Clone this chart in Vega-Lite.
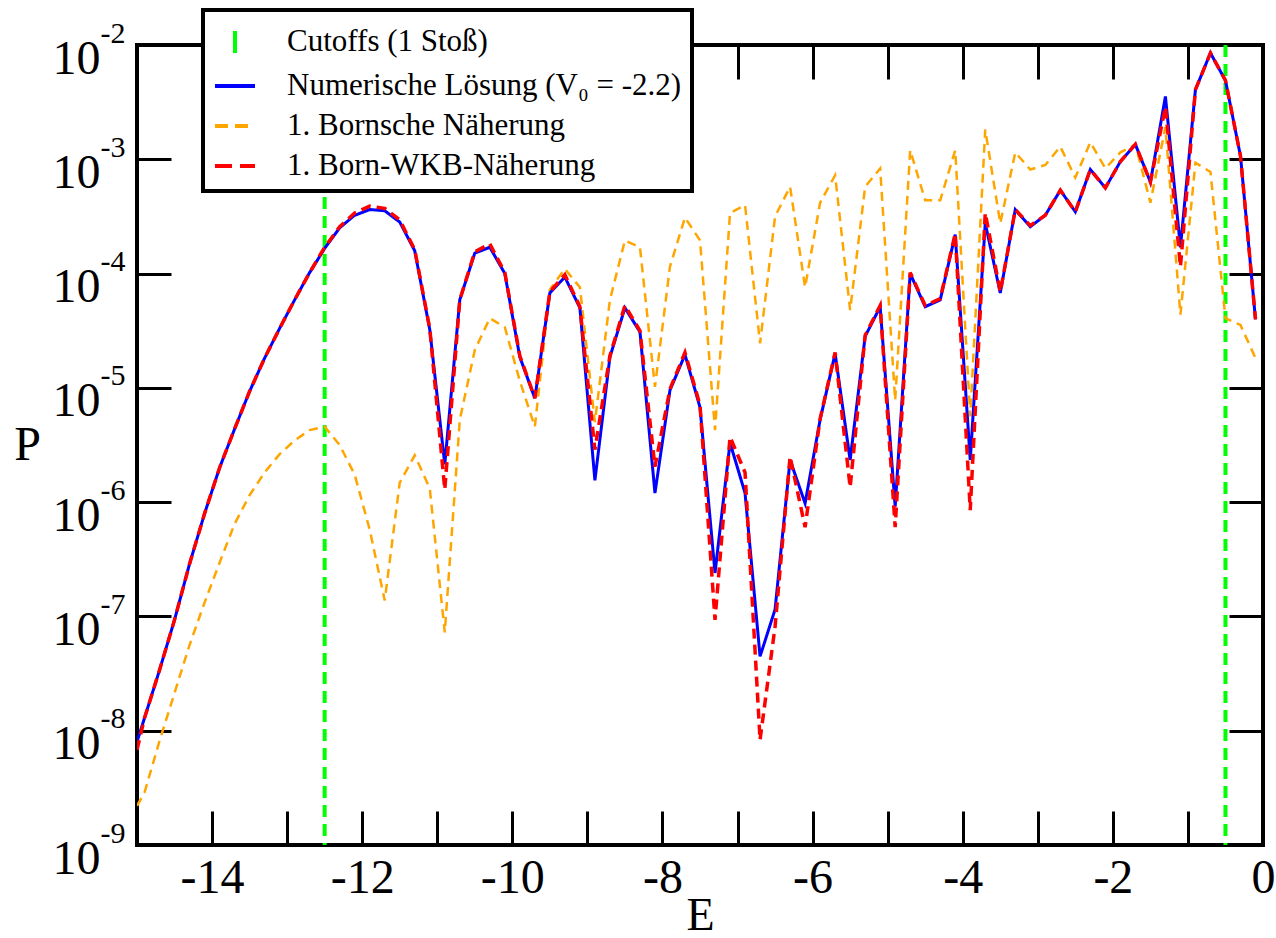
{
  "$schema": "https://vega.github.io/schema/vega-lite/v6.json",
  "width": 1126,
  "height": 800,
  "autosize": {"type": "none"},
  "padding": {"left": 137, "top": 45, "right": 13, "bottom": 93},
  "background": "white",
  "config": {
    "view": {"stroke": "black", "strokeWidth": 4},
    "axis": {"labelFont": "Liberation Serif", "titleFont": "Liberation Serif", "labelColor": "black", "titleColor": "black", "tickColor": "black", "grid": false, "domain": false, "titleFontWeight": "normal", "tickWidth": 3}
  },
  "data": {"values": [
    {"E": -15.0, "num": 8.0e-9, "born": 2.2e-9, "wkb": 6.8e-9},
    {"E": -14.9, "num": 1.29e-8, "born": 2.88e-9, "wkb": 1.29e-8},
    {"E": -14.7, "num": 3.39e-8, "born": 8.13e-9, "wkb": 3.39e-8},
    {"E": -14.5, "num": 9.33e-8, "born": 2.14e-8, "wkb": 9.33e-8},
    {"E": -14.3, "num": 2.88e-7, "born": 5.62e-8, "wkb": 2.88e-7},
    {"E": -14.1, "num": 7.94e-7, "born": 1.32e-7, "wkb": 7.94e-7},
    {"E": -13.9, "num": 2.00e-6, "born": 2.95e-7, "wkb": 2.00e-6},
    {"E": -13.7, "num": 4.37e-6, "born": 6.46e-7, "wkb": 4.37e-6},
    {"E": -13.5, "num": 9.33e-6, "born": 1.15e-6, "wkb": 9.33e-6},
    {"E": -13.3, "num": 1.82e-5, "born": 1.82e-6, "wkb": 1.82e-5},
    {"E": -13.1, "num": 3.31e-5, "born": 2.63e-6, "wkb": 3.31e-5},
    {"E": -12.9, "num": 5.89e-5, "born": 3.47e-6, "wkb": 5.89e-5},
    {"E": -12.7, "num": 1.02e-4, "born": 4.27e-6, "wkb": 1.02e-4},
    {"E": -12.5, "num": 1.66e-4, "born": 4.57e-6, "wkb": 1.70e-4},
    {"E": -12.3, "num": 2.51e-4, "born": 3.16e-6, "wkb": 2.57e-4},
    {"E": -12.1, "num": 3.24e-4, "born": 1.74e-6, "wkb": 3.39e-4},
    {"E": -11.9, "num": 3.63e-4, "born": 5.75e-7, "wkb": 3.89e-4},
    {"E": -11.7, "num": 3.55e-4, "born": 1.38e-7, "wkb": 3.72e-4},
    {"E": -11.5, "num": 2.82e-4, "born": 1.48e-6, "wkb": 2.95e-4},
    {"E": -11.3, "num": 1.58e-4, "born": 2.57e-6, "wkb": 1.62e-4},
    {"E": -11.1, "num": 3.24e-5, "born": 1.32e-6, "wkb": 3.31e-5},
    {"E": -10.9, "num": 2.14e-6, "born": 7.24e-8, "wkb": 1.29e-6},
    {"E": -10.7, "num": 5.89e-5, "born": 5.25e-6, "wkb": 5.89e-5},
    {"E": -10.5, "num": 1.51e-4, "born": 2.14e-5, "wkb": 1.55e-4},
    {"E": -10.3, "num": 1.70e-4, "born": 4.07e-5, "wkb": 1.82e-4},
    {"E": -10.1, "num": 1.00e-4, "born": 3.39e-5, "wkb": 1.02e-4},
    {"E": -9.9, "num": 1.86e-5, "born": 1.15e-5, "wkb": 1.91e-5},
    {"E": -9.7, "num": 8.13e-6, "born": 4.57e-6, "wkb": 8.13e-6},
    {"E": -9.5, "num": 6.76e-5, "born": 7.24e-5, "wkb": 6.92e-5},
    {"E": -9.3, "num": 9.33e-5, "born": 1.10e-4, "wkb": 9.77e-5},
    {"E": -9.1, "num": 5.01e-5, "born": 7.59e-5, "wkb": 5.13e-5},
    {"E": -8.9, "num": 1.55e-6, "born": 5.01e-6, "wkb": 2.88e-6},
    {"E": -8.7, "num": 1.86e-5, "born": 5.89e-5, "wkb": 1.91e-5},
    {"E": -8.5, "num": 5.01e-5, "born": 1.95e-4, "wkb": 5.25e-5},
    {"E": -8.3, "num": 3.09e-5, "born": 1.70e-4, "wkb": 3.16e-5},
    {"E": -8.1, "num": 1.20e-6, "born": 1.02e-5, "wkb": 2.04e-6},
    {"E": -7.9, "num": 9.55e-6, "born": 1.15e-4, "wkb": 9.77e-6},
    {"E": -7.7, "num": 1.95e-5, "born": 3.09e-4, "wkb": 2.04e-5},
    {"E": -7.5, "num": 6.76e-6, "born": 1.95e-4, "wkb": 7.08e-6},
    {"E": -7.3, "num": 2.40e-7, "born": 4.27e-6, "wkb": 9.33e-8},
    {"E": -7.1, "num": 3.31e-6, "born": 3.39e-4, "wkb": 3.72e-6},
    {"E": -6.9, "num": 1.20e-6, "born": 3.98e-4, "wkb": 1.82e-6},
    {"E": -6.7, "num": 4.47e-8, "born": 2.45e-5, "wkb": 8.32e-9},
    {"E": -6.5, "num": 1.15e-7, "born": 3.16e-4, "wkb": 8.13e-8},
    {"E": -6.3, "num": 2.34e-6, "born": 5.75e-4, "wkb": 2.51e-6},
    {"E": -6.1, "num": 9.77e-7, "born": 7.59e-5, "wkb": 6.03e-7},
    {"E": -5.9, "num": 5.25e-6, "born": 4.17e-4, "wkb": 5.37e-6},
    {"E": -5.7, "num": 2.00e-5, "born": 7.24e-4, "wkb": 2.04e-5},
    {"E": -5.5, "num": 2.34e-6, "born": 4.79e-5, "wkb": 1.35e-6},
    {"E": -5.3, "num": 2.82e-5, "born": 5.75e-4, "wkb": 2.88e-5},
    {"E": -5.1, "num": 5.13e-5, "born": 8.32e-4, "wkb": 5.25e-5},
    {"E": -4.9, "num": 9.12e-7, "born": 7.76e-6, "wkb": 6.03e-7},
    {"E": -4.7, "num": 1.00e-4, "born": 1.20e-3, "wkb": 1.02e-4},
    {"E": -4.5, "num": 5.13e-5, "born": 4.37e-4, "wkb": 5.25e-5},
    {"E": -4.3, "num": 5.89e-5, "born": 4.37e-4, "wkb": 6.03e-5},
    {"E": -4.1, "num": 2.19e-4, "born": 1.20e-3, "wkb": 2.24e-4},
    {"E": -3.9, "num": 2.34e-6, "born": 5.62e-6, "wkb": 8.51e-7},
    {"E": -3.7, "num": 2.75e-4, "born": 1.82e-3, "wkb": 3.39e-4},
    {"E": -3.5, "num": 6.76e-5, "born": 2.75e-4, "wkb": 6.92e-5},
    {"E": -3.3, "num": 3.63e-4, "born": 1.15e-3, "wkb": 3.63e-4},
    {"E": -3.1, "num": 2.57e-4, "born": 8.13e-4, "wkb": 2.63e-4},
    {"E": -2.9, "num": 3.24e-4, "born": 8.91e-4, "wkb": 3.24e-4},
    {"E": -2.7, "num": 5.37e-4, "born": 1.29e-3, "wkb": 5.37e-4},
    {"E": -2.5, "num": 3.47e-4, "born": 6.92e-4, "wkb": 3.47e-4},
    {"E": -2.3, "num": 8.13e-4, "born": 1.41e-3, "wkb": 8.13e-4},
    {"E": -2.1, "num": 5.62e-4, "born": 8.32e-4, "wkb": 5.62e-4},
    {"E": -1.9, "num": 9.55e-4, "born": 1.15e-3, "wkb": 9.55e-4},
    {"E": -1.7, "num": 1.35e-3, "born": 1.35e-3, "wkb": 1.35e-3},
    {"E": -1.5, "num": 6.31e-4, "born": 4.17e-4, "wkb": 6.31e-4},
    {"E": -1.3, "num": 3.55e-3, "born": 1.91e-3, "wkb": 2.88e-3},
    {"E": -1.1, "num": 1.70e-4, "born": 4.37e-5, "wkb": 1.15e-4},
    {"E": -0.9, "num": 4.07e-3, "born": 9.33e-4, "wkb": 4.07e-3},
    {"E": -0.7, "num": 8.51e-3, "born": 7.76e-4, "wkb": 8.51e-3},
    {"E": -0.5, "num": 4.90e-3, "born": 4.07e-5, "wkb": 4.90e-3},
    {"E": -0.3, "num": 1.07e-3, "born": 3.55e-5, "wkb": 1.07e-3},
    {"E": -0.1, "num": 3.98e-5, "born": 1.82e-5, "wkb": 3.98e-5}
  ]},
  "layer": [
    {
      "data": {"values": [{"E": -12.5}, {"E": -0.5}]},
      "mark": {"type": "rule", "strokeWidth": 4, "strokeDash": [12, 7]},
      "encoding": {
        "x": {"field": "E", "type": "quantitative", "scale": {"domain": [-15, 0], "nice": false, "zero": false}, "axis": null},
        "color": {
          "datum": "Cutoffs (1 Stoß)", "type": "nominal",
          "scale": {"domain": ["Cutoffs (1 Stoß)", "Numerische Lösung (V₀ = -2.2)", "1. Bornsche Näherung", "1. Born-WKB-Näherung"], "range": ["#00ff00", "#0000ff", "#ffa500", "#ff0000"]},
          "legend": {
            "title": null, "orient": "none", "legendX": 66, "legendY": -35,
            "fillColor": "white", "strokeColor": "black", "padding": 10, "rowPadding": 3,
            "labelFont": "Liberation Serif", "labelFontSize": 31, "labelColor": "black", "labelOffset": 30, "labelLimit": 1000,
            "symbolType": "stroke", "symbolSize": 1600, "symbolStrokeWidth": 4,
            "encode": {
              "symbols": {"update": {
                "shape": {"signal": "datum.value === 'Cutoffs (1 Stoß)' ? 'M0,-0.55L0,0.55' : 'stroke'"},
                "strokeDash": {"signal": "datum.value === '1. Bornsche Näherung' ? [13,7] : datum.value === '1. Born-WKB-Näherung' ? [17,8] : [1,0]"},
                "strokeWidth": {"value": 4},
                "fill": {"value": "transparent"}
              }},
              "legend": {"update": {"strokeWidth": {"value": 4}}}
            }
          }
        }
      }
    },
    {
      "mark": {"type": "line", "strokeWidth": 2.5, "strokeDash": [9, 6], "clip": true},
      "encoding": {
        "x": {"field": "E", "type": "quantitative", "scale": {"domain": [-15, 0], "nice": false, "zero": false},
          "axis": {"orient": "bottom", "values": [-14, -13, -12, -11, -10, -9, -8, -7, -6, -5, -4, -3, -2, -1, 0],
            "tickSize": -34, "encode": {"ticks": {"y2": {"condition": {"test": "datum.value % 2 == 0", "value": -34}, "value": -17}}},
            "labelExpr": "datum.value % 2 == 0 ? '' + datum.value : ''", "labelBaseline": "alphabetic", "labelPadding": 81,
            "labelFont": "Liberation Serif", "labelFontSize": 48, "labelFlush": false, "labelOverlap": false,
            "title": "E", "titleFont": "Liberation Serif", "titleFontSize": 46, "titleX": 563, "titleY": 84, "titleBaseline": "alphabetic", "titleAlign": "center"}},
        "y": {"field": "born", "type": "quantitative", "scale": {"type": "log", "domain": [1e-9, 0.01], "nice": false},
          "axis": {"orient": "left", "values": [1e-9, 1e-8, 1e-7, 1e-6, 1e-5, 1e-4, 1e-3, 1e-2],
            "tickSize": -34,
            "labelExpr": "'10'", "labelAlign": "right", "labelBaseline": "alphabetic", "labelPadding": 71, "labelOffset": 28,
            "labelFont": "Liberation Serif", "labelFontSize": 48, "labelOverlap": false, "labelFlush": false,
            "title": "P", "titleFont": "Liberation Serif", "titleFontSize": 48, "titleAngle": 0, "titleX": -110, "titleY": 400, "titleAlign": "center", "titleBaseline": "middle"}},
        "color": {"datum": "1. Bornsche Näherung", "type": "nominal"}
      }
    },
    {
      "mark": {"type": "line", "strokeWidth": 3, "clip": true},
      "encoding": {
        "x": {"field": "E", "type": "quantitative", "scale": {"domain": [-15, 0], "nice": false, "zero": false},
          "axis": {"orient": "top", "values": [-14, -13, -12, -11, -10, -9, -8, -7, -6, -5, -4, -3, -2, -1],
            "tickSize": -34, "encode": {"ticks": {"y2": {"condition": {"test": "datum.value % 2 == 0", "value": 34}, "value": 17}}},
            "labels": false, "title": null}},
        "y": {"field": "num", "type": "quantitative", "scale": {"type": "log", "domain": [1e-9, 0.01], "nice": false},
          "axis": {"orient": "left", "values": [1e-9, 1e-8, 1e-7, 1e-6, 1e-5, 1e-4, 1e-3, 1e-2],
            "ticks": false, "labelExpr": "'' + round(log(datum.value) / LN10)", "labelAlign": "left", "labelBaseline": "alphabetic",
            "labelPadding": 37, "labelOffset": -3, "labelFont": "Liberation Serif", "labelFontSize": 30, "labelOverlap": false, "labelFlush": false, "title": null}},
        "color": {"datum": "Numerische Lösung (V₀ = -2.2)", "type": "nominal"}
      }
    },
    {
      "mark": {"type": "line", "strokeWidth": 3.5, "strokeDash": [10, 6], "clip": true},
      "encoding": {
        "x": {"field": "E", "type": "quantitative", "scale": {"domain": [-15, 0], "nice": false, "zero": false}, "axis": null},
        "y": {"field": "wkb", "type": "quantitative", "scale": {"type": "log", "domain": [1e-9, 0.01], "nice": false},
          "axis": {"orient": "right", "values": [1e-9, 1e-8, 1e-7, 1e-6, 1e-5, 1e-4, 1e-3, 1e-2],
            "tickSize": -34, "labels": false, "title": null}},
        "color": {"datum": "1. Born-WKB-Näherung", "type": "nominal"}
      }
    }
  ],
  "resolve": {"axis": {"x": "independent", "y": "independent"}}
}
